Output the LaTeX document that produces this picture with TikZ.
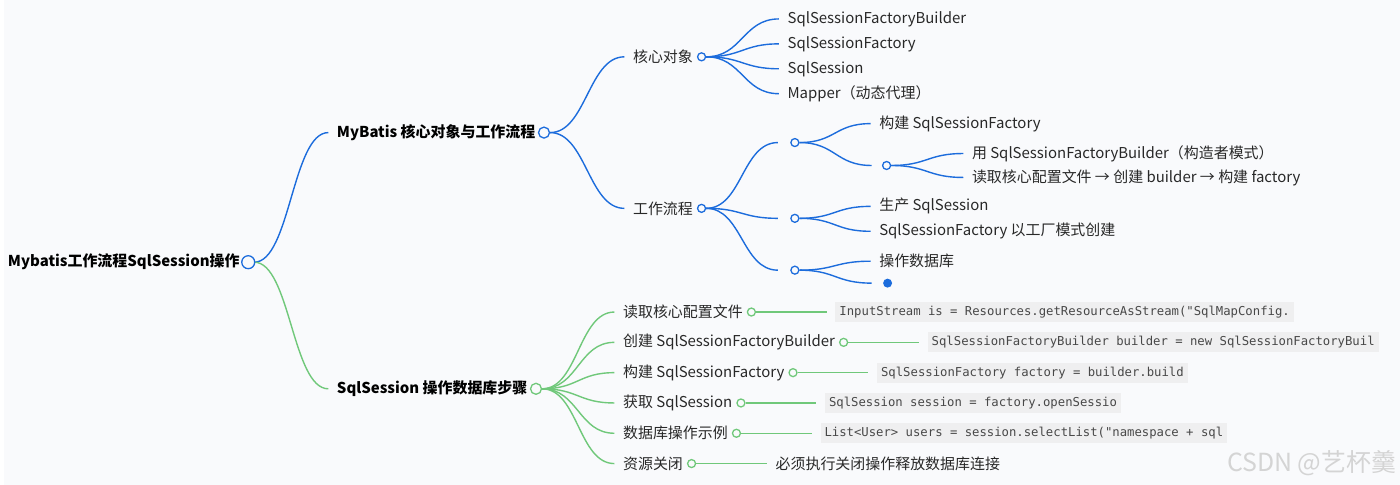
\documentclass[tikz,border=0pt]{standalone}
\usepackage{fontspec}
\setmainfont{Noto Sans CJK SC}
\setmonofont{DejaVu Sans Mono}
\usetikzlibrary{positioning}

\definecolor{paper}{RGB}{249,250,252}
\definecolor{mapblue}{RGB}{28,108,220}
\definecolor{mapgreen}{RGB}{112,200,122}
\definecolor{codegray}{RGB}{239,239,240}
\definecolor{inkgray}{RGB}{40,40,40}

\tikzset{
  topic/.style={anchor=west, inner xsep=8pt, inner ysep=0pt, text=black,
    font=\fontsize{15}{18}\selectfont\bfseries},
  item/.style={anchor=west, inner xsep=8pt, inner ysep=0pt, text=inkgray,
    font=\fontsize{15}{18}\selectfont},
  knob/.style={circle, draw, fill=paper, line width=1.3pt, inner sep=0pt, minimum size=#1},
  knob/.default=8pt,
  snippet/.style={anchor=west, fill=codegray, inner xsep=4pt, inner ysep=0pt,
    minimum height=20pt, text=inkgray!85, font=\fontsize{12.3}{14}\selectfont\ttfamily},
  curve/.style={to path={.. controls +(36,0) and +(-36,0) .. (\tikztotarget)}},
}

\begin{document}
\begin{tikzpicture}[x=1pt, y=-1pt, line width=1.4pt]

\fill [paper] (0,0) rectangle (1400,486);

% root and the two main branches
\node [topic] (root) at (-5,263) {Mybatis工作流程SqlSession操作};
\node [topic] (main-1) at (325,133) {MyBatis 核心对象与工作流程};
\node [topic] (main-2) at (325,390) {SqlSession 操作数据库步骤};

\draw [mapblue] (root.east) ++(6,0) to [curve] (main-1.west);
\draw [mapgreen] (root.east) ++(6,0) to [curve] (main-2.west);
\node [knob=13pt, draw=mapblue] (root-k) at (root.east) {};
\node [knob=11pt, draw=mapblue] (main-1-k) at (main-1.east) {};
\node [knob=11pt, draw=mapgreen] (main-2-k) at (main-2.east) {};

% core objects / work flow
\node [item] (core) at (622,57) {核心对象};
\node [item] (flow) at (622,209) {工作流程};
\node [knob, draw=mapblue] (core-k) at (core.east) {};
\node [knob, draw=mapblue] (flow-k) at (flow.east) {};
\draw [mapblue] (main-1-k.east) to [curve] (core.west);
\draw [mapblue] (main-1-k.east) to [curve] (flow.west);

\foreach \l [count=\i] in {SqlSessionFactoryBuilder, SqlSessionFactory, SqlSession, Mapper（动态代理）}
  \node [item] (core-\i) at (777,{-6+25*\i}) {\l};
\foreach \i in {1,...,4}
  \draw [mapblue] (core-k.east) to [curve] (core-\i.west);

\foreach \y [count=\i] in {143,219,271} {
  \coordinate (flow-\i) at (776,\y);
  \draw [mapblue] (flow-k.east) to [curve] (flow-\i);
  \node [knob, draw=mapblue] (flow-\i-k) at (793,\y) {};
}

\node [item] (build) at (869,124) {构建 SqlSessionFactory};
\coordinate (build-way) at (870,166);
\node [knob, draw=mapblue] (build-way-k) at (885,166) {};
\node [item] (build-1) at (962,154) {用 SqlSessionFactoryBuilder（构造者模式）};
\node [item] (build-2) at (962,178) {读取核心配置文件 → 创建 builder → 构建 factory};
\draw [mapblue] (flow-1-k.east) to [curve] (build.west);
\draw [mapblue] (flow-1-k.east) to [curve] (build-way);
\foreach \i in {1,2}
  \draw [mapblue] (build-way-k.east) to [curve] (build-\i.west);

\node [item] (make-1) at (869,207) {生产 SqlSession};
\node [item] (make-2) at (869,232) {SqlSessionFactory 以工厂模式创建};
\foreach \i in {1,2}
  \draw [mapblue] (flow-2-k.east) to [curve] (make-\i.west);

\node [item] (use-1) at (869,262) {操作数据库};
\coordinate (use-2) at (870,284);
\node [circle, fill=mapblue, inner sep=0pt, minimum size=9pt] (use-2-dot) at (886,284) {};
\draw [mapblue] (flow-3-k.east) to [curve] (use-1.west);
\draw [mapblue] (flow-3-k.east) to [curve] (use-2);

% steps with code
\foreach \l/\c [count=\i] in {读取核心配置文件/InputStream is = Resources.getResourceAsStream("SqlMapConfig.,
    创建 SqlSessionFactoryBuilder/SqlSessionFactoryBuilder builder = new SqlSessionFactoryBuil,
    构建 SqlSessionFactory/SqlSessionFactory factory = builder.build,
    获取 SqlSession/SqlSession session = factory.openSessio,
    数据库操作示例/List<User> users = session.selectList("namespace + sql} {
  \node [item] (step-\i) at (612,{282.6+30.4*\i}) {\l};
  \draw [mapgreen] (main-2-k.east) to [curve] (step-\i.west);
  \node [knob, draw=mapgreen] (step-\i-k) at (step-\i.east) {};
  \node [snippet, right=79pt of step-\i-k] (code-\i) {\c};
  \draw [mapgreen, shorten >=8pt] (step-\i-k) -- (code-\i);
}

\node [item] (step-6) at (612,465) {资源关闭};
\draw [mapgreen] (main-2-k.east) to [curve] (step-6.west);
\node [knob, draw=mapgreen] (step-6-k) at (step-6.east) {};
\node [item, right=71pt of step-6-k] (step-6-note) {必须执行关闭操作释放数据库连接};
\draw [mapgreen] (step-6-k) -- (step-6-note);

\node [anchor=east, inner sep=0pt, text=black!17, font=\fontsize{25}{28}\selectfont] (mark) at (1397,465) {CSDN @艺杯羹};

\end{tikzpicture}
\end{document}
